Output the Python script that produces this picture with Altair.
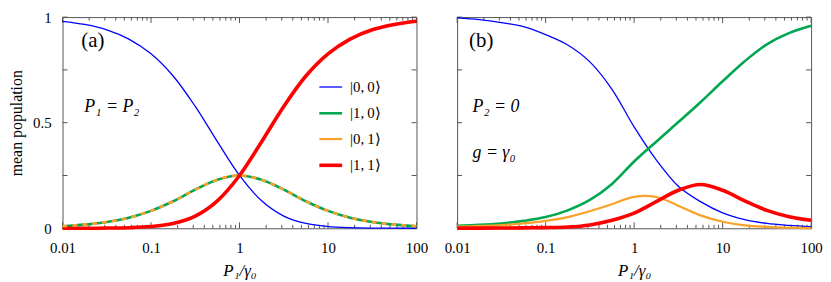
import altair as alt
import pandas as pd

# ---------------- data ----------------
x_vals = [0.01, 0.01778, 0.03162, 0.05623, 0.1, 0.1778, 0.3162, 0.5623, 1.0,
          1.778, 3.162, 5.623, 10.0, 17.78, 31.62, 56.23, 100.0]

states = ["|0,\u20090⟩", "|1,\u20090⟩", "|0,\u20091⟩", "|1,\u20091⟩"]
colors = ["#0000ff", "#00a650", "#f8a229", "#ff0000"]
widths = [1.3, 2.6, 2.2, 3.6]

# panel (a): P1 = P2
a_00 = [0.980, 0.965, 0.940, 0.896, 0.826, 0.721, 0.577, 0.410, 0.250,
        0.130, 0.0578, 0.0229, 0.0083, 0.0028, 0.0009, 0.0003, 0.0001]
a_10 = [0.0098, 0.0172, 0.0297, 0.0504, 0.0826, 0.128, 0.183, 0.230, 0.250,
        0.230, 0.183, 0.128, 0.0826, 0.0504, 0.0297, 0.0172, 0.0098]
a_01 = [0.0098, 0.0172, 0.0297, 0.0504, 0.0826, 0.128, 0.183, 0.230, 0.250,
        0.230, 0.183, 0.128, 0.0826, 0.0504, 0.0297, 0.0172, 0.0098]
a_11 = [0.0001, 0.0003, 0.0009, 0.0028, 0.0083, 0.0229, 0.0577, 0.130, 0.250,
        0.410, 0.577, 0.721, 0.826, 0.896, 0.940, 0.965, 0.980]

# panel (b): P2 = 0, g = gamma0
b_00 = [0.996, 0.988, 0.974, 0.955, 0.917, 0.868, 0.788, 0.658, 0.480,
        0.324, 0.199, 0.126, 0.073, 0.041, 0.023, 0.014, 0.008]
b_10 = [0.012, 0.016, 0.023, 0.035, 0.053, 0.085, 0.134, 0.210, 0.316,
        0.410, 0.503, 0.597, 0.696, 0.791, 0.871, 0.924, 0.959]
b_01 = [0.008, 0.011, 0.015, 0.023, 0.035, 0.053, 0.081, 0.114, 0.149,
        0.148, 0.107, 0.061, 0.031, 0.014, 0.007, 0.003, 0.001]
b_11 = [0.0005, 0.0007, 0.001, 0.002, 0.003, 0.006, 0.016, 0.038, 0.072,
        0.126, 0.180, 0.207, 0.180, 0.130, 0.085, 0.055, 0.038]

x_major = [0.01, 0.1, 1, 10, 100]
x_minor = [m * 10 ** k for k in (-2, -1, 0, 1) for m in range(2, 10)]
y_ticks = [0, 0.25, 0.5, 0.75, 1]
y_labels = [0, 0.5, 1]

annot_left = ["(a)", "P₁ = P₂"]
annot_right = ["(b)", "P₂ = 0", "g = γ₀"]

# ---------------- layout constants ----------------
W, H = 357, 213
FONT = "Liberation Serif"
FRAME = "#555555"


def long_df(series):
    rows = []
    for st, vals in zip(states, series):
        for x, v in zip(x_vals, vals):
            rows.append({"x": x, "v": v, "state": st})
    return pd.DataFrame(rows)


df_a = long_df([a_00, a_10, a_01, a_11])
df_b = long_df([b_00, b_10, b_01, b_11])

xscale = alt.Scale(type="log", domain=[0.01, 100], nice=False)
yscale = alt.Scale(domain=[0, 1], nice=False, zero=False)

x_axis = alt.Axis(values=x_major, format="~g", ticks=False, tickSize=0, domain=False,
                  grid=False, labelPadding=12, labelFlush=False, labelFontSize=15,
                  title="P₁/γ₀", titleFontStyle="italic", titleFontSize=17,
                  titleFontWeight="normal", titlePadding=8)


def tick_layers():
    layers = []
    for vals, ln in ((x_major, 6), (x_minor, 3.5)):
        d = pd.DataFrame({"x": vals})
        base = alt.Chart(d).mark_rule(color=FRAME, strokeWidth=1)
        layers.append(base.encode(x=alt.X("x:Q", scale=xscale), y=alt.value(H), y2=alt.value(H - ln)))
        layers.append(base.encode(x=alt.X("x:Q", scale=xscale), y=alt.value(0), y2=alt.value(ln)))
    d = pd.DataFrame({"v": y_ticks})
    base = alt.Chart(d).mark_rule(color=FRAME, strokeWidth=1)
    layers.append(base.encode(y=alt.Y("v:Q", scale=yscale), x=alt.value(0), x2=alt.value(5)))
    layers.append(base.encode(y=alt.Y("v:Q", scale=yscale), x=alt.value(W), x2=alt.value(W - 5)))
    return layers


def text_layer(txt, x, y, size, style):
    return alt.Chart(pd.DataFrame({"t": [txt]})).mark_text(
        font=FONT, fontSize=size, fontStyle=style, align="left", baseline="alphabetic",
        color="black").encode(text="t:N", x=alt.value(x), y=alt.value(y))


legend_a = alt.Legend(orient="none", legendX=257, legendY=58, title=None,
                      symbolType="stroke", symbolSize=529, labelFont=FONT,
                      labelFontSize=15, labelOffset=6, rowPadding=5, padding=0)

color_scale = alt.Scale(domain=states, range=colors)
width_scale = alt.Scale(type="ordinal", domain=states, range=widths)

# ---------------- panel (a) ----------------
lines_a = alt.Chart(df_a[df_a.state != states[2]]).mark_line(interpolate="catmull-rom").encode(
    x=alt.X("x:Q", scale=xscale, axis=x_axis),
    y=alt.Y("v:Q", scale=yscale,
            axis=alt.Axis(values=y_labels, format=".1~f", ticks=False, tickSize=0, domain=False,
                          grid=False, labelPadding=11.5, labelFontSize=15,
                          title="mean population", titleFontSize=16, titleFontWeight="normal",
                          titlePadding=8)),
    color=alt.Color("state:N", scale=color_scale, legend=legend_a, sort=states),
    strokeWidth=alt.StrokeWidth("state:N", scale=width_scale, legend=legend_a, sort=states),
)
dash_a = alt.Chart(df_a[df_a.state == states[2]]).mark_line(
    interpolate="catmull-rom", color=colors[2], strokeWidth=2.6, strokeDash=[5, 5]).encode(
    x=alt.X("x:Q", scale=xscale), y=alt.Y("v:Q", scale=yscale))

panel_a = alt.layer(
    *tick_layers(), lines_a, dash_a,
    text_layer(annot_left[0], 19, 30.5, 21, "normal"),
    text_layer(annot_left[1], 22, 96, 18, "italic"),
).properties(width=W, height=H)

# ---------------- panel (b) ----------------
lines_b = alt.Chart(df_b).mark_line(interpolate="catmull-rom").encode(
    x=alt.X("x:Q", scale=xscale, axis=x_axis),
    y=alt.Y("v:Q", scale=yscale,
            axis=alt.Axis(labels=False, ticks=False, domain=False, grid=False, title=None)),
    color=alt.Color("state:N", scale=color_scale, legend=None, sort=states),
    strokeWidth=alt.StrokeWidth("state:N", scale=width_scale, legend=None, sort=states),
)

panel_b = alt.layer(
    *tick_layers(), lines_b,
    text_layer(annot_right[0], 12, 30.5, 21, "normal"),
    text_layer(annot_right[1], 15.5, 96, 18, "italic"),
    text_layer(annot_right[2], 15.5, 142.5, 18, "italic"),
).properties(width=W, height=H)

chart = alt.hconcat(panel_a, panel_b, spacing=41, bounds="flush").resolve_scale(
    color="independent", strokeWidth="independent"
).properties(padding=0).configure_view(stroke=FRAME, strokeWidth=1).configure_axis(
    labelFont=FONT, titleFont=FONT, labelColor="black", titleColor="black"
)

chart.save("out.html", embed_options={"renderer": "svg", "actions": False})
